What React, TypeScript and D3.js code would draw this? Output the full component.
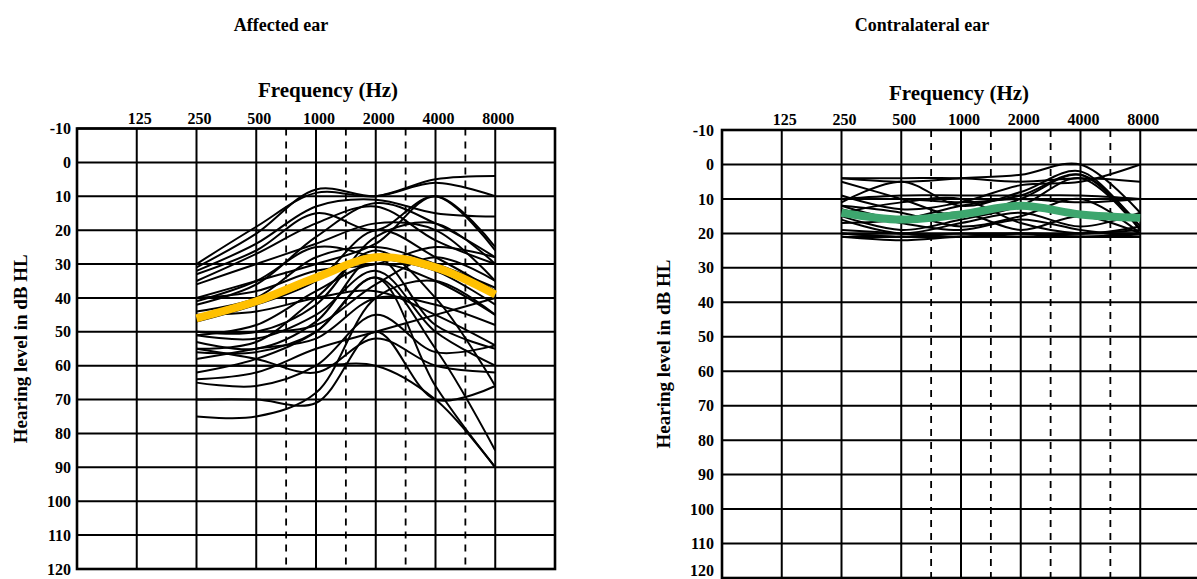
import React from 'react'
import * as d3 from 'd3'

// audiometric frequencies (Hz)
const freqs = [250, 500, 1000, 2000, 4000, 8000]
const freqLabels = [125, 250, 500, 1000, 2000, 4000, 8000]
const halfOctaves = [[500, 1000], [1000, 2000], [2000, 4000], [4000, 8000]] // 750, 1500, 3000, 6000
const dbTicks = d3.range(-10, 121, 10)

// affected ear, one row per patient, dB HL at freqs
const affected = [
  [30, 19, 9, 10, 5, 4],
  [31, 21, 8, 10, 6, 10],
  [32, 24, 13, 11, 15, 16],
  [33, 26, 15, 20, 10, 26],
  [35, 27, 18, 13, 23, 30],
  [40, 35, 30, 24, 10, 25],
  [42, 36, 22, 12, 18, 28],
  [36, 30, 24, 18, 20, 35],
  [44, 40, 28, 25, 30, 37],
  [47, 42, 35, 20, 28, 38],
  [40, 38, 32, 30, 25, 28],
  [41, 35, 25, 28, 32, 42],
  [50, 50, 42, 22, 18, 30],
  [51, 48, 38, 30, 35, 45],
  [51, 52, 45, 32, 50, 60],
  [50, 50, 48, 36, 28, 35],
  [53, 55, 47, 28, 48, 55],
  [55, 53, 40, 26, 40, 66],
  [56, 56, 50, 34, 55, 85],
  [45, 44, 40, 38, 45, 54],
  [58, 55, 52, 40, 42, 48],
  [60, 60, 60, 60, 70, 90],
  [62, 58, 50, 34, 66, 90],
  [65, 66, 60, 45, 56, 54],
  [70, 70, 71, 50, 70, 66],
  [75, 75, 68, 40, 35, 45],
  [64, 62, 55, 50, 45, 40],
  [55, 58, 62, 52, 60, 62],
]
const affectedMean = [46, 41, 34, 28, 31, 39]

// contralateral ear
const contra = [
  [4, 4, 4, 5, 4, 5],
  [4, 5, 4, 3, 0, 14],
  [20, 21, 21, 21, 21, 20],
  [21, 22, 21, 21, 20, 20],
  [20, 20, 20, 20, 21, 21],
  [19, 20, 21, 20, 20, 19],
  [21, 21, 20, 21, 21, 21],
  [20, 21, 21, 20, 21, 20],
  [10, 9, 9, 9, 9, 10],
  [10, 10, 11, 10, 11, 10],
  [5, 10, 15, 10, 3, 18],
  [11, 5, 12, 8, 2, 19],
  [12, 14, 18, 15, 10, 20],
  [15, 19, 16, 12, 4, 19],
  [13, 17, 19, 16, 19, 21],
  [9, 13, 11, 6, 5, 0],
  [16, 20, 17, 14, 18, 14],
  [14, 11, 10, 17, 20, 18],
  [17, 16, 12, 9, 3, 19],
  [12, 16, 14, 19, 15, 20],
]
const contraMean = [14, 16, 14.5, 12, 14.5, 15.5]

const font = 'Liberation Serif, Times New Roman, serif'

function Audiogram({ title, curves, mean, meanColor, left, right, top, bottom, titleX, freqTitleX, freqTitleY, axisTitleX, labelGap }) {
  const x = d3.scaleLog().base(2).domain([62.5, 16000]).range([left, right])
  const y = d3.scaleLinear().domain([-10, 120]).range([top, bottom])
  const line = d3.line<number>()
    .x((d, i) => x(freqs[i]))
    .y(d => y(d))
    .curve(d3.curveCatmullRom)

  return (
    <g fontFamily={font} fontWeight="bold" fill="#000">
      <text x={titleX} y={31} textAnchor="middle" fontSize={18}>{title}</text>
      <text x={freqTitleX} y={freqTitleY} textAnchor="middle" fontSize={21}>Frequency (Hz)</text>
      {freqLabels.map(f => (
        <text key={f} x={x(f) + 3} y={top - 5} textAnchor="middle" fontSize={16}>{f}</text>
      ))}
      {dbTicks.map(t => (
        <text key={t} x={left - labelGap} y={Math.min(y(t), 570)} dy="0.35em" textAnchor="end" fontSize={16}>{t}</text>
      ))}
      <text transform={`translate(${axisTitleX},${(top + bottom) / 2}) rotate(-90)`} textAnchor="middle" dy="0.35em" fontSize={19}>
        Hearing level in dB HL
      </text>

      <g stroke="#000" fill="none">
        {dbTicks.map(t => (
          <line key={t} x1={left} x2={right} y1={y(t)} y2={y(t)} strokeWidth={2} />
        ))}
        {freqLabels.map(f => (
          <line key={f} x1={x(f)} x2={x(f)} y1={top} y2={bottom} strokeWidth={2} />
        ))}
        {halfOctaves.map(([a, b]) => {
          const hx = (x(a) + x(b)) / 2
          return <line key={a} x1={hx} x2={hx} y1={top} y2={bottom} strokeWidth={1.8} strokeDasharray="7,6" />
        })}
        <rect x={left} y={top} width={right - left} height={bottom - top} strokeWidth={2.6} />
        {curves.map((c, i) => (
          <path key={i} d={line(c) || ''} strokeWidth={2} />
        ))}
        <path d={line(mean) || ''} stroke={meanColor} strokeWidth={8} />
      </g>
    </g>
  )
}

export default function App() {
  return (
    <svg width={1197} height={579} style={{ position: 'absolute', left: 0, top: 0, background: '#fff' }}>
      <Audiogram
        title="Affected ear" curves={affected} mean={affectedMean} meanColor="#FFC000"
        left={77} right={555} top={128.5} bottom={569}
        titleX={281} freqTitleX={328} freqTitleY={97} axisTitleX={20} labelGap={6}
      />
      <Audiogram
        title="Contralateral ear" curves={contra} mean={contraMean} meanColor="#3DA66E"
        left={722} right={1200} top={130} bottom={578}
        titleX={922} freqTitleX={959} freqTitleY={100} axisTitleX={663} labelGap={8}
      />
    </svg>
  )
}
